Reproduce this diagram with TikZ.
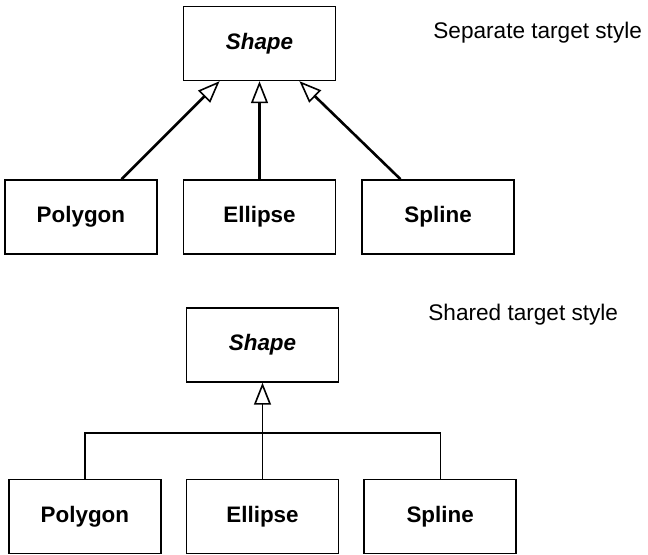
\documentclass[tikz,border=0pt]{standalone}
\usepackage{fontspec}
\setmainfont{Liberation Sans}
\usepackage{tikz}
\usetikzlibrary{arrows.meta,positioning,calc}

\begin{document}
\begin{tikzpicture}[
  x=0.5pt,y=-0.5pt,
  box/.style={draw,line width=0.8pt,minimum width=76pt,minimum height=37pt,
              inner sep=0pt,font=\fontsize{11.2}{13}\selectfont\bfseries},
  super/.style={box,font=\fontsize{11.2}{13}\selectfont\bfseries\itshape},
  note/.style={anchor=west,inner sep=0pt,font=\fontsize{11.3}{14}\selectfont},
  inherit/.style={-{Triangle[open,length=11pt,width=8.5pt,line width=0.8pt]},line width=1.3pt},
  shared/.style={line width=0.6pt}]
  \useasboundingbox (0,0) rectangle (648,555);
  % separate target style
  \node[box] (ellA) at (259.5,217) {Ellipse};
  \node[box,left=12.5pt of ellA] (polyA) {Polygon};
  \node[box,right=12.5pt of ellA] (splA) {Spline};
  \node[super,above=49pt of ellA] (shapeA) {Shape};
  \node[note] (sepnote) at (433,33) {Separate target style};
  \draw[inherit] ($(polyA.north)!0.53!(polyA.north east)$) -- ($(shapeA.south)!0.52!(shapeA.south west)$);
  \draw[inherit] (ellA) -- (shapeA);
  \draw[inherit] ($(splA.north)!0.49!(splA.north west)$) -- ($(shapeA.south)!0.52!(shapeA.south east)$);
  % shared target style
  \node[box] (ellB) at (262.5,516.5) {Ellipse};
  \node[box,left=12pt of ellB] (polyB) {Polygon};
  \node[box,right=12pt of ellB] (splB) {Spline};
  \node[super,above=48pt of ellB] (shapeB) {Shape};
  \node[note] (sharednote) at (428,315) {Shared target style};
  \coordinate (bar) at (262.5,433);
  \draw[shared] (polyB.north) |- (bar) -| (splB.north);
  \draw[shared] (ellB.north) -- (bar);
  \draw[inherit,shared] (bar) -- (shapeB.south);
\end{tikzpicture}
\end{document}
